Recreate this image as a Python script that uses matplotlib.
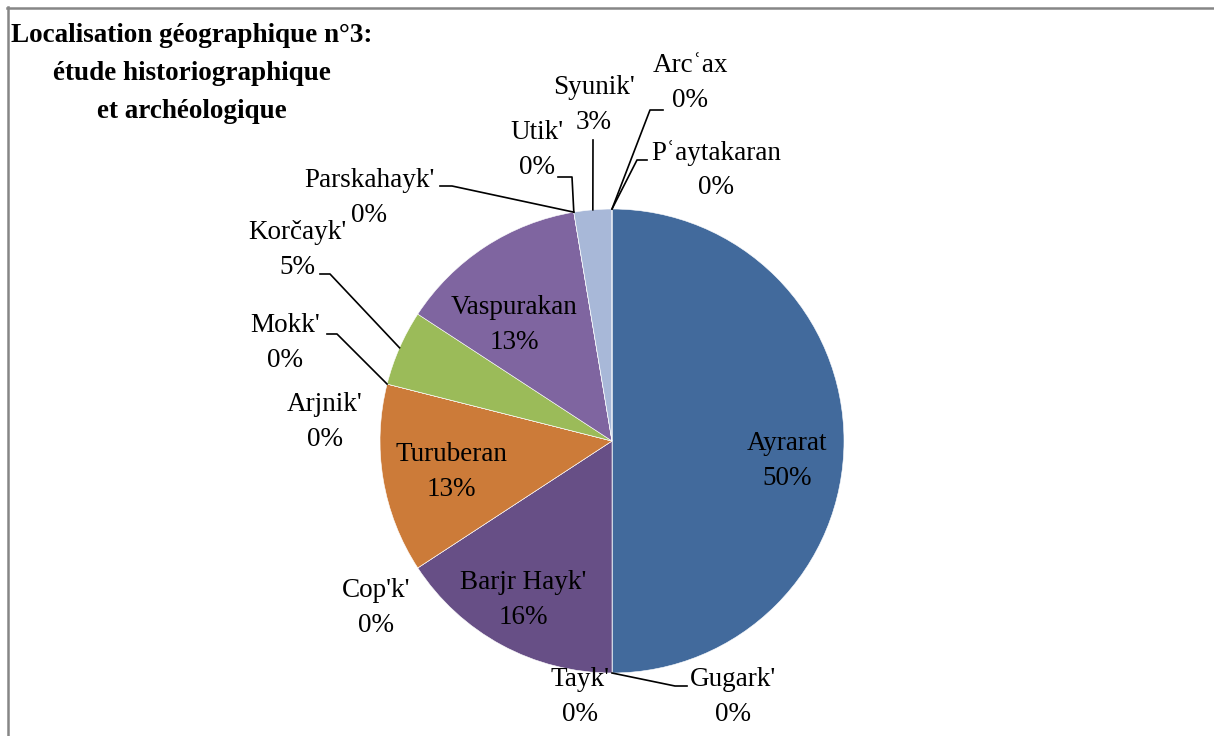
import numpy as np
import matplotlib.pyplot as plt
from matplotlib.lines import Line2D

plt.rcParams['font.family'] = ['Liberation Serif', 'DejaVu Serif']

# Data: number of sites per region (shares shown as rounded percentages)
regions = ["Ayrarat", "Gugark'", "Tayk'", "Barjr Hayk'", "Cop'k'", "Turuberan",
           "Arjnik'", "Mokk'", "Korčayk'", "Vaspurakan", "Parskahayk'", "Utik'",
           "Syunik'", "Arcʿax", "Pʿaytakaran"]
counts = [19, 0, 0, 6, 0, 5, 0, 0, 2, 5, 0, 0, 1, 0, 0]
colors = ["#426A9C", "#A8423F", "#86A14E", "#674F86", "#3D96AE", "#CC7B39",
          "#4F81BD", "#C0504D", "#9BBB59", "#7F65A0", "#4BACC6", "#F79646",
          "#A8B8D8", "#D9A3A2", "#C3D69B"]
title_lines = ["Localisation géographique n°3:", "étude historiographique", "et archéologique"]

# Layout (pixels, origin top-left)
W, H = 1214, 736
cx, cy, R = 612, 441, 232
label_pos = [(787, 461), (733, 697), (580, 697), (523, 600), (376, 608),
             (451, 472), (325, 422), (285, 343), (297, 250), (514, 325),
             (369, 198), (537, 150), (594, 105), (690, 83), (716, 170)]
leaders = {
    "Gugark'": [(675, 686), (687, 686)],
    "Mokk'": [(337, 334), (327, 334)],
    "Korčayk'": [(330, 274), (320, 274)],
    "Parskahayk'": [(452, 186), (440, 186)],
    "Utik'": [(572, 177), (558, 177)],
    "Syunik'": [(593, 140)],
    "Arcʿax": [(650, 110), (663, 110)],
    "Pʿaytakaran": [(637, 160), (647, 160)],
}

fig = plt.figure(figsize=(W / 100, H / 100), dpi=100)
ax = fig.add_axes([0, 0, 1, 1])

ax.pie(counts, colors=colors, startangle=90, counterclock=False,
       center=(cx, H - cy), radius=R, normalize=True,
       wedgeprops=dict(linewidth=0.4, edgecolor='white'))
ax.set_xlim(0, W)
ax.set_ylim(0, H)
ax.set_aspect('equal')
ax.axis('off')

total = sum(counts)
cum = np.cumsum([0] + counts)
for i, name in enumerate(regions):
    pct = round(100 * counts[i] / total)
    x, y = label_pos[i]
    ax.text(x, H - y, f"{name}\n{pct}%", ha='center', va='center',
            multialignment='center', fontsize=19.5, linespacing=1.5, color='black')
    if name in leaders:
        mid = (cum[i] + cum[i + 1]) / 2 / total * 2 * np.pi
        sx, sy = cx + R * np.sin(mid), cy - R * np.cos(mid)
        pts = [(sx, sy)] + leaders[name]
        ax.plot([p[0] for p in pts], [H - p[1] for p in pts], color='black', lw=1.2)

for k, line in enumerate(title_lines):
    fig.text(192 / W, 1 - (36 + k * 37.5) / H, line, ha='center', va='center',
             fontsize=19.5, fontweight='bold', color='black')

# chart border (top and left edges visible)
fig.add_artist(Line2D([7 / W, 1], [1 - 7.5 / H, 1 - 7.5 / H], color='#868686', lw=1.8,
                      transform=fig.transFigure))
fig.add_artist(Line2D([7.5 / W, 7.5 / W], [0, 1 - 7 / H], color='#868686', lw=1.8,
                      transform=fig.transFigure))

fig.savefig('out.png', dpi=100)
